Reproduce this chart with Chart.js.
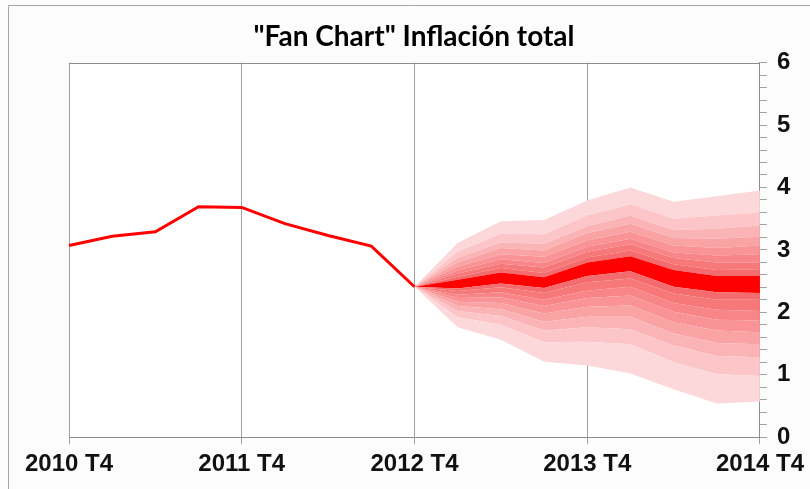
<!DOCTYPE html>
<html>
<head>
<meta charset="utf-8">
<script src="https://cdn.jsdelivr.net/npm/chart.js@4.4.1/dist/chart.umd.min.js"></script>
<style>
  html, body { margin: 0; padding: 0; background: #fcfcfc; }
  #wrap { width: 810px; height: 489px; }
</style>
</head>
<body>
<div id="wrap"><canvas id="fanChart"></canvas></div>
<script>
// trimestres 2010 T4 .. 2014 T4
var quarters = ["2010 T4",
    "2011 T1", "2011 T2", "2011 T3", "2011 T4",
    "2012 T1", "2012 T2", "2012 T3", "2012 T4",
    "2013 T1", "2013 T2", "2013 T3", "2013 T4",
    "2014 T1", "2014 T2", "2014 T3", "2014 T4"];

// inflación observada (2010 T4 - 2012 T4)
var observed = [3.07, 3.22, 3.29, 3.69, 3.68, 3.42, 3.23, 3.06, 2.41];

// proyección: bordes de las bandas (2012 T4 - 2014 T4), de abajo hacia arriba
var lower8 = [2.41, 1.76, 1.56, 1.21, 1.15, 1.02, 0.77, 0.54, 0.57];
var lower7 = [2.41, 1.92, 1.80, 1.52, 1.53, 1.49, 1.20, 1.01, 0.98];
var lower6 = [2.41, 2.02, 1.94, 1.71, 1.76, 1.73, 1.47, 1.30, 1.28];
var lower5 = [2.41, 2.10, 2.05, 1.85, 1.93, 1.93, 1.66, 1.51, 1.49];
var lower4 = [2.41, 2.17, 2.15, 1.98, 2.09, 2.11, 1.84, 1.71, 1.68];
var lower3 = [2.41, 2.23, 2.24, 2.10, 2.23, 2.27, 2.01, 1.88, 1.87];
var lower2 = [2.41, 2.28, 2.32, 2.20, 2.35, 2.41, 2.15, 2.04, 2.02];
var lower1 = [2.41, 2.34, 2.40, 2.31, 2.48, 2.54, 2.30, 2.20, 2.20];
var centerLow  = [2.41, 2.38, 2.46, 2.39, 2.58, 2.66, 2.41, 2.32, 2.31];
var centerHigh = [2.41, 2.52, 2.64, 2.56, 2.80, 2.90, 2.68, 2.58, 2.58];
var upper1 = [2.41, 2.57, 2.71, 2.63, 2.88, 2.99, 2.77, 2.68, 2.69];
var upper2 = [2.41, 2.62, 2.78, 2.72, 2.97, 3.09, 2.87, 2.80, 2.80];
var upper3 = [2.41, 2.67, 2.85, 2.79, 3.05, 3.18, 2.96, 2.91, 2.93];
var upper4 = [2.41, 2.73, 2.93, 2.89, 3.15, 3.29, 3.07, 3.03, 3.07];
var upper5 = [2.41, 2.80, 3.03, 2.99, 3.27, 3.42, 3.19, 3.18, 3.21];
var upper6 = [2.41, 2.87, 3.12, 3.10, 3.38, 3.55, 3.32, 3.34, 3.39];
var upper7 = [2.41, 2.97, 3.26, 3.25, 3.55, 3.73, 3.50, 3.55, 3.60];
var upper8 = [2.41, 3.11, 3.46, 3.48, 3.79, 4.00, 3.77, 3.86, 3.95];

// colores de las bandas, de la exterior a la interior
var bandColors = ["#fdd8da", "#fcc6c8", "#fbb4b6", "#faa3a5", "#f99395",
                  "#f88587", "#f67879", "#f46c6d"];

var pad = quarters.length - observed.length; // proyección empieza en 2012 T4

function fanSeries(arr) {
    var out = [];
    for (var i = 0; i < pad; i++) out.push(null);
    return out.concat(arr);
}

var bounds = [lower8, lower7, lower6, lower5, lower4, lower3, lower2, lower1,
              centerLow, centerHigh,
              upper1, upper2, upper3, upper4, upper5, upper6, upper7, upper8];
// color del relleno entre bounds[i-1] y bounds[i]
var fills = [null,
    bandColors[0], bandColors[1], bandColors[2], bandColors[3],
    bandColors[4], bandColors[5], bandColors[6], bandColors[7],
    "#ff0000",
    bandColors[7], bandColors[6], bandColors[5], bandColors[4],
    bandColors[3], bandColors[2], bandColors[1], bandColors[0]];

var datasets = [{
    label: "Inflación",
    data: observed,
    borderColor: "#ff0000",
    borderWidth: 3,
    pointRadius: 0,
    fill: false,
    tension: 0,
    order: 0
}];

bounds.forEach(function (b, i) {
    datasets.push({
        label: "banda " + i,
        data: fanSeries(b),
        borderWidth: 0,
        borderColor: "transparent",
        pointRadius: 0,
        backgroundColor: fills[i] || "transparent",
        fill: i === 0 ? false : "-1",
        tension: 0,
        order: 1
    });
});

var frame = {
    id: "frame",
    beforeDraw: function (chart) {
        var c = chart.ctx;
        c.save();
        c.fillStyle = "#ffffff";
        var a = chart.chartArea;
        c.fillRect(a.left, a.top, a.right - a.left, a.bottom - a.top);
        c.strokeStyle = "#a6a6a6";
        c.lineWidth = 1;
        c.beginPath();
        c.moveTo(8.5, 489);
        c.lineTo(8.5, 5.5);
        c.lineTo(810, 5.5);
        c.stroke();
        c.restore();
    },
    afterDraw: function (chart) {
        var c = chart.ctx, a = chart.chartArea;
        c.save();
        c.strokeStyle = "#8c8c8c";
        c.lineWidth = 1;
        c.beginPath();
        c.moveTo(a.left, Math.round(a.top) + 0.5);
        c.lineTo(a.right, Math.round(a.top) + 0.5);
        c.stroke();
        c.restore();
    }
};

var tickFont = { family: "'Liberation Sans', Arial, sans-serif", size: 24, weight: "bold" };

new Chart(document.getElementById("fanChart"), {
    type: "line",
    data: { labels: quarters, datasets: datasets },
    plugins: [frame],
    options: {
        responsive: true,
        maintainAspectRatio: false,
        animation: false,
        layout: { padding: { left: 18, right: 0, top: 9, bottom: 4 } },
        plugins: {
            legend: { display: false },
            tooltip: { enabled: false },
            filler: { propagate: false },
            title: {
                display: true,
                text: '"Fan Chart" Inflación total',
                color: "#000",
                font: { family: "Lato, sans-serif", size: 28, weight: "bold" },
                padding: { top: 11, bottom: 9 }
            }
        },
        scales: {
            x: {
                offset: false,
                grid: {
                    color: function (ctx) {
                        return (ctx.index % 4 === 0) ? "#a0a0a0" : "transparent";
                    },
                    tickLength: 7
                },
                border: { color: "#8c8c8c" },
                ticks: {
                    autoSkip: false,
                    maxRotation: 0,
                    minRotation: 0,
                    padding: 6,
                    color: "#111",
                    font: tickFont,
                    callback: function (v, i) {
                        return (i % 4 === 0) ? quarters[i] : "";
                    }
                },
                afterFit: function (scale) { scale.paddingLeft = 69; }
            },
            y: {
                position: "right",
                min: 0,
                max: 6,
                grid: { drawOnChartArea: false, color: "#a0a0a0", tickLength: 7 },
                border: { color: "#8c8c8c" },
                ticks: {
                    stepSize: 0.2,
                    autoSkip: false,
                    padding: 10,
                    color: "#111",
                    font: tickFont,
                    callback: function (v) {
                        return Math.abs(v - Math.round(v)) < 1e-6 ? Math.round(v) : "";
                    }
                },
                afterFit: function (scale) { scale.width = 50; }
            }
        }
    }
});
</script>
</body>
</html>
